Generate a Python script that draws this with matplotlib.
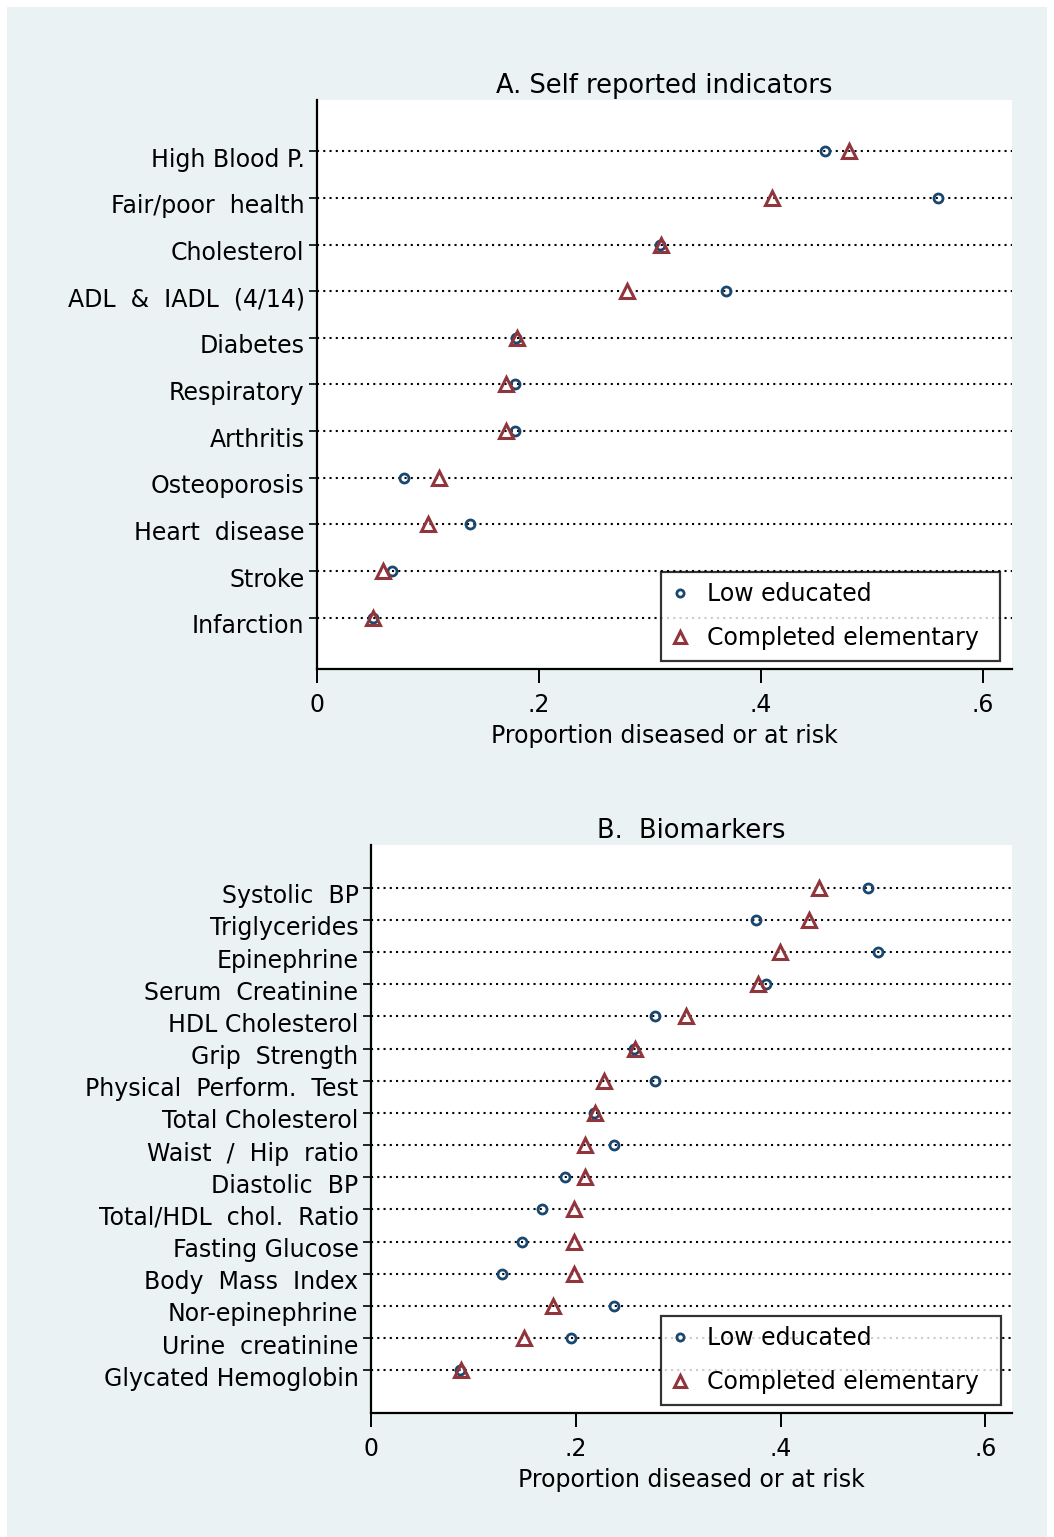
import matplotlib.pyplot as plt
import matplotlib.patches as mpatches
import matplotlib.transforms as mtransforms
import numpy as np

# ---- data ----
self_labels = ["High Blood P.", "Fair/poor  health", "Cholesterol", "ADL  &  IADL  (4/14)",
               "Diabetes", "Respiratory", "Arthritis", "Osteoporosis", "Heart  disease",
               "Stroke", "Infarction"]
self_low = [0.458, 0.559, 0.309, 0.368, 0.179, 0.178, 0.178, 0.078, 0.138, 0.068, 0.050]
self_elem = [0.479, 0.410, 0.310, 0.279, 0.180, 0.170, 0.170, 0.110, 0.100, 0.059, 0.050]

bio_labels = ["Systolic  BP", "Triglycerides", "Epinephrine", "Serum  Creatinine",
              "HDL Cholesterol", "Grip  Strength", "Physical  Perform.  Test",
              "Total Cholesterol", "Waist  /  Hip  ratio", "Diastolic  BP",
              "Total/HDL  chol.  Ratio", "Fasting Glucose", "Body  Mass  Index",
              "Nor-epinephrine", "Urine  creatinine", "Glycated Hemoglobin"]
bio_low = [0.485, 0.376, 0.495, 0.386, 0.277, 0.257, 0.277, 0.218, 0.237, 0.189,
           0.167, 0.147, 0.128, 0.237, 0.195, 0.087]
bio_elem = [0.438, 0.428, 0.399, 0.378, 0.308, 0.258, 0.228, 0.219, 0.209, 0.209,
            0.198, 0.198, 0.198, 0.178, 0.149, 0.088]

xticks = [0, 0.2, 0.4, 0.6]
xtick_labels = ["0", ".2", ".4", ".6"]

BG = "#eaf2f3"
NAVY = "#1a476f"
MAROON = "#90353b"
FS = 17

fig = plt.figure(figsize=(10.54, 15.37), dpi=100)
fig.patch.set_facecolor("white")
fig.patches.append(mpatches.Rectangle((7 / 1054, 0), 1040 / 1054, 1530 / 1537,
                                      transform=fig.transFigure, facecolor=BG,
                                      edgecolor="none", zorder=-10))


def panel(rect, labels, low, elem, title, margin, leg_x):
    ax = fig.add_axes(rect)
    n = len(labels)
    y = np.arange(n)[::-1]
    ax.set_facecolor("white")
    for s in ["top", "right"]:
        ax.spines[s].set_visible(False)
    ax.spines["left"].set_linewidth(1.6)
    ax.spines["bottom"].set_linewidth(1.6)
    ax.set_yticks(y)
    ax.set_yticklabels(labels, fontsize=FS)
    ax.set_xticks(xticks)
    ax.set_xticklabels(xtick_labels, fontsize=FS)
    ax.tick_params(axis="x", length=10, width=1.4, pad=7)
    ax.tick_params(axis="y", length=6, width=1.2, pad=3)
    ax.yaxis.grid(True, linestyle=(0, (1, 2.0)), color="black", linewidth=1.5)
    ax.set_axisbelow(True)
    ax.plot(low, y, "o", ms=6.5, mfc="none", mec=NAVY, mew=2.0, ls="none",
            label="Low educated", zorder=3)
    ax.plot(elem, y, "^", ms=10, mfc="none", mec=MAROON, mew=2.2, ls="none",
            label="Completed elementary", zorder=3)
    ax.set_xlim(0, 0.626)
    ax.set_ylim(-margin, n - 1 + margin)
    ax.set_xlabel("Proportion diseased or at risk", fontsize=FS, labelpad=5)
    ax.set_title(title, fontsize=18.5, pad=5)
    leg = ax.legend(loc="lower left", bbox_to_anchor=(leg_x, 0.014, 0.983 - leg_x, 0.16),
                    mode="expand", fontsize=FS,
                    frameon=True, fancybox=False, edgecolor="black",
                    borderaxespad=0, handletextpad=0.8, handlelength=0.7,
                    labelspacing=0.85, borderpad=0.45, markerscale=0.8)
    leg.get_frame().set_linewidth(1.6)
    # labels sit a little below their guide line, as in the original
    shift = mtransforms.ScaledTranslation(0, -6 / 100, fig.dpi_scale_trans)
    for lab in ax.get_yticklabels():
        lab.set_transform(lab.get_transform() + shift)
    return ax


panel([317 / 1054, 1 - 669 / 1537, 695 / 1054, 569 / 1537],
      self_labels, self_low, self_elem, "A. Self reported indicators", 1.1,
      (661 - 317) / 695)
panel([371 / 1054, 1 - 1413 / 1537, 641 / 1054, 568 / 1537],
      bio_labels, bio_low, bio_elem, "B.  Biomarkers", 1.33,
      (661 - 371) / 641)

fig.savefig("out.png", dpi=100)
